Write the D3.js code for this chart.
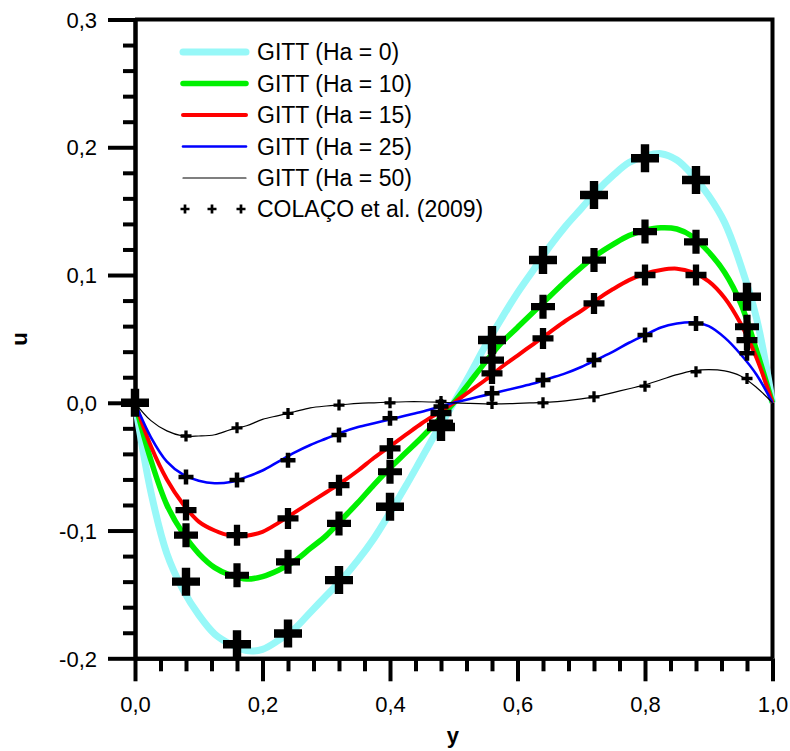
<!DOCTYPE html>
<html>
<head>
<meta charset="utf-8">
<script src="https://cdn.jsdelivr.net/npm/d3@7"></script>
<style>
  html, body { margin: 0; padding: 0; background: #fff; }
  svg { display: block; font-family: "Liberation Sans", Arial, sans-serif; }
</style>
</head>
<body>
<svg id="chart" width="790" height="751"></svg>
<script>
// ---- GITT velocity profiles u(y) for several Hartmann numbers ----
const yGrid = [0, 0.025, 0.05, 0.075, 0.1, 0.125, 0.15, 0.175, 0.2, 0.225,
               0.25, 0.275, 0.3, 0.325, 0.35, 0.375, 0.4, 0.425, 0.45, 0.475,
               0.5, 0.525, 0.55, 0.575, 0.6, 0.625, 0.65, 0.675, 0.7, 0.725,
               0.75, 0.775, 0.8, 0.825, 0.85, 0.875, 0.9, 0.925, 0.95, 0.975, 1.0];

const uHa0 = [0, -0.070, -0.118, -0.146, -0.166, -0.181, -0.189, -0.194, -0.193, -0.186,
              -0.177, -0.164, -0.151, -0.138, -0.123, -0.106, -0.086, -0.065, -0.043, -0.021,
              0, 0.022, 0.045, 0.066, 0.086, 0.104, 0.122, 0.138, 0.152, 0.166,
              0.178, 0.188, 0.193, 0.195, 0.190, 0.178, 0.162, 0.141, 0.108, 0.066, 0];

const uHa10 = [0, -0.045, -0.080, -0.102, -0.118, -0.129, -0.135, -0.138, -0.136, -0.131,
               -0.124, -0.114, -0.104, -0.091, -0.078, -0.064, -0.051, -0.039, -0.027, -0.014,
               0, 0.016, 0.032, 0.047, 0.059, 0.071, 0.083, 0.095, 0.106, 0.116,
               0.124, 0.131, 0.135, 0.137, 0.136, 0.130, 0.118, 0.102, 0.078, 0.041, 0];

const uHa15 = [0, -0.034, -0.060, -0.079, -0.093, -0.100, -0.104, -0.104, -0.101, -0.094,
               -0.086, -0.078, -0.070, -0.062, -0.053, -0.043, -0.034, -0.025, -0.016, -0.008,
               0, 0.009, 0.018, 0.028, 0.037, 0.046, 0.055, 0.064, 0.072, 0.081,
               0.089, 0.096, 0.101, 0.104, 0.105, 0.102, 0.095, 0.082, 0.062, 0.035, 0];

const uHa25 = [0, -0.027, -0.046, -0.056, -0.061, -0.063, -0.062, -0.058, -0.053, -0.046,
               -0.039, -0.033, -0.028, -0.023, -0.019, -0.016, -0.013, -0.010, -0.007, -0.0035,
               0, 0.003, 0.006, 0.009, 0.012, 0.015, 0.019, 0.023, 0.028, 0.034,
               0.040, 0.047, 0.053, 0.059, 0.062, 0.063, 0.060, 0.051, 0.038, 0.022, 0];

const uHa50 = [0, -0.014, -0.022, -0.026, -0.026, -0.025, -0.021, -0.018, -0.013, -0.010,
               -0.007, -0.004, -0.0025, -0.0015, -0.0005, 0, 0.0005, 0.0008, 0.0008, 0.0005,
               0, -0.0005, -0.0008, -0.0008, -0.0005, 0, 0.0005, 0.0015, 0.003, 0.005,
               0.008, 0.011, 0.014, 0.018, 0.022, 0.025, 0.026, 0.025, 0.021, 0.012, 0];

// ---- COLAÇO et al. (2009) reference points ----
const refY = [0, 0.08, 0.16, 0.24, 0.32, 0.40, 0.48, 0.56, 0.64, 0.72, 0.80, 0.88, 0.96];
const refHa0  = [0, -0.140, -0.189, -0.1806, -0.1388, -0.0814, -0.019, 0.0491, 0.1117, 0.1626, 0.1914, 0.1744, 0.083];
const refHa10 = [0, -0.1036, -0.135, -0.1245, -0.0944, -0.054, -0.016, 0.0334, 0.0752, 0.1117, 0.134, 0.126, 0.0595];
const refHa15 = [0, -0.084, -0.1036, -0.0905, -0.0645, -0.0357, -0.008, 0.023, 0.0504, 0.0778, 0.100, 0.100, 0.049];
const refHa25 = [0, -0.058, -0.0605, -0.045, -0.0253, -0.0122, -0.003, 0.0074, 0.0178, 0.0334, 0.053, 0.062, 0.0387];
const refHa50 = [0, -0.026, -0.0196, -0.0083, -0.0018, 0.000, 0.001, -0.0005, 0.000, 0.0047, 0.013, 0.0243, 0.019];

// ---- labels and ticks ----
const seriesLabels = ["GITT (Ha = 0)", "GITT (Ha = 10)", "GITT (Ha = 15)", "GITT (Ha = 25)", "GITT (Ha = 50)"];
const refLabel = "COLAÇO et al. (2009)";
const xMajorTicks = [0, 0.2, 0.4, 0.6, 0.8, 1.0];
const xMinorTicks = [0.04, 0.08, 0.12, 0.16, 0.24, 0.28, 0.32, 0.36, 0.44, 0.48, 0.52, 0.56,
                     0.64, 0.68, 0.72, 0.76, 0.84, 0.88, 0.92, 0.96];
const yMajorTicks = [-0.2, -0.1, 0.0, 0.1, 0.2, 0.3];
const yMinorTicks = [-0.18, -0.16, -0.14, -0.12, -0.08, -0.06, -0.04, -0.02,
                     0.02, 0.04, 0.06, 0.08, 0.12, 0.14, 0.16, 0.18, 0.22, 0.24, 0.26, 0.28];
const xTitle = "y";
const yTitle = "u";

// ---- drawing ----
const svg = d3.select("#chart");
const plotLeft = 135, plotRight = 772.5, plotTop = 19.5, plotBottom = 658.3;

const x = d3.scaleLinear().domain([0, 1]).range([plotLeft, plotRight]);
const y = d3.scaleLinear().domain([-0.2, 0.3]).range([plotBottom, plotTop]);

const styles = [
  { color: "#97f8f8", width: 7,   marker: 28 },
  { color: "#00f000", width: 5.5, marker: 24 },
  { color: "#ff0000", width: 4,   marker: 21 },
  { color: "#0000ff", width: 2.6, marker: 15 },
  { color: "#000000", width: 1.2, marker: 11 }
];
const curves = [uHa0, uHa10, uHa15, uHa25, uHa50];
const refs = [refHa0, refHa10, refHa15, refHa25, refHa50];

const fmt = d => (d < 0 ? "-" : "") + Math.abs(d).toFixed(1).replace(".", ",");

// frame (top and right edges)
svg.append("path")
  .attr("d", `M${plotLeft},${plotTop}H${plotRight}V${plotBottom}`)
  .attr("fill", "none").attr("stroke", "#000").attr("stroke-width", 4);

// bottom axis
const gx = svg.append("g").attr("transform", `translate(0,${plotBottom})`);
gx.call(d3.axisBottom(x).tickValues(xMajorTicks).tickSize(23).tickSizeOuter(0)
  .tickPadding(15).tickFormat(fmt));
const gxm = svg.append("g").attr("transform", `translate(0,${plotBottom})`);
gxm.call(d3.axisBottom(x).tickValues(xMinorTicks).tickSize(13).tickSizeOuter(0).tickFormat(""));

// left axis
const gy = svg.append("g").attr("transform", `translate(${plotLeft},0)`);
gy.call(d3.axisLeft(y).tickValues(yMajorTicks).tickSize(27).tickSizeOuter(0)
  .tickPadding(11).tickFormat(fmt));
const gym = svg.append("g").attr("transform", `translate(${plotLeft},0)`);
gym.call(d3.axisLeft(y).tickValues(yMinorTicks).tickSize(12).tickSizeOuter(0).tickFormat(""));

[gx, gxm, gy, gym].forEach(g => {
  g.selectAll("path.domain").attr("stroke", "#000").attr("stroke-width", 4);
  g.selectAll(".tick line").attr("stroke", "#000").attr("stroke-width", 4);
  g.selectAll(".tick text").attr("fill", "#000").attr("font-size", 22)
    .attr("font-family", "'Liberation Sans', Arial, sans-serif");
});
gy.selectAll(".tick text").attr("dy", "0.35em");

// axis titles
svg.append("text").attr("x", (plotLeft + plotRight) / 2 - 1).attr("y", 743)
  .attr("text-anchor", "middle").attr("font-size", 22).attr("font-weight", "bold").text(xTitle);
svg.append("text").attr("transform", "translate(27,339) rotate(-90)")
  .attr("text-anchor", "middle").attr("font-size", 22).attr("font-weight", "bold").text(yTitle);

// GITT curves
const line = d3.line().x(d => x(d[0])).y(d => y(d[1])).curve(d3.curveCatmullRom.alpha(0.5));
curves.forEach((vals, i) => {
  svg.append("path")
    .datum(yGrid.map((g, k) => [g, vals[k]]))
    .attr("d", line)
    .attr("fill", "none")
    .attr("stroke", styles[i].color)
    .attr("stroke-width", styles[i].width)
    .attr("stroke-linejoin", "round");
});

// plus-shaped marker
function plus(s) {
  const h = s / 2, t = s * 0.15;
  return `M${-t},${-h}H${t}V${-t}H${h}V${t}H${t}V${h}H${-t}V${t}H${-h}V${-t}H${-t}Z`;
}

// reference points
refs.forEach((vals, i) => {
  svg.append("g").selectAll("path")
    .data(refY.map((g, k) => [g, vals[k]]))
    .join("path")
    .attr("transform", d => `translate(${x(d[0])},${y(d[1])})`)
    .attr("d", plus(styles[i].marker))
    .attr("fill", "#000");
});

// legend
const legX0 = 183, legX1 = 246, legText = 257;
const legRows = [52, 83.5, 115, 146.5, 178, 209];
seriesLabels.forEach((lab, i) => {
  svg.append("line").attr("x1", legX0).attr("x2", legX1)
    .attr("y1", legRows[i]).attr("y2", legRows[i])
    .attr("stroke", styles[i].color).attr("stroke-width", styles[i].width)
    .attr("stroke-linecap", "round");
  svg.append("text").attr("x", legText).attr("y", legRows[i]).attr("dy", "0.35em")
    .attr("font-size", 23).attr("fill", "#000").text(lab);
});
[185, 212, 241].forEach(px => {
  svg.append("path").attr("transform", `translate(${px},${legRows[5]})`)
    .attr("d", plus(9)).attr("fill", "#000");
});
svg.append("text").attr("x", legText).attr("y", legRows[5]).attr("dy", "0.35em")
  .attr("font-size", 23).attr("fill", "#000").text(refLabel);
</script>
</body>
</html>
